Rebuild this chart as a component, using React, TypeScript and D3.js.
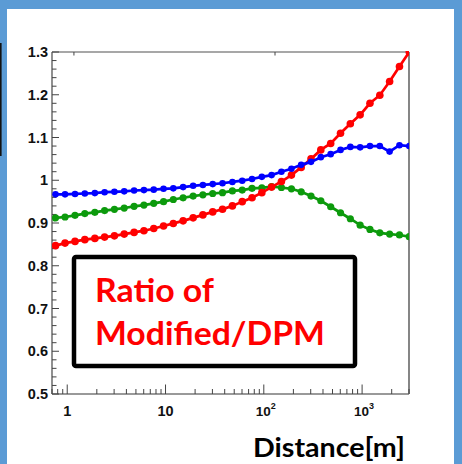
import React from "react";
import * as d3 from "d3";

// Distance bin centres [m], ten per decade
const distances = [
  0.76, 0.95, 1.2, 1.51, 1.91, 2.4, 3.02, 3.8, 4.79, 6.03, 7.59, 9.55, 12.0,
  15.1, 19.1, 24.0, 30.2, 38.0, 47.9, 60.3, 75.9, 95.5, 120, 151, 191, 240,
  302, 380, 479, 603, 759, 955, 1202, 1514, 1905, 2399, 3020,
];

const blueRatio = [
  0.967, 0.967, 0.968, 0.969, 0.97, 0.972, 0.973, 0.974, 0.976, 0.977, 0.978,
  0.98, 0.981, 0.984, 0.987, 0.989, 0.991, 0.993, 0.996, 0.999, 1.003, 1.008,
  1.012, 1.02, 1.027, 1.036, 1.043, 1.054, 1.061, 1.071, 1.078, 1.077, 1.08,
  1.08, 1.067, 1.082, 1.08,
];

const greenRatio = [
  0.912, 0.914, 0.918, 0.922, 0.925, 0.929, 0.932, 0.935, 0.939, 0.942, 0.946,
  0.95, 0.955, 0.959, 0.963, 0.966, 0.969, 0.971, 0.975, 0.977, 0.981, 0.982,
  0.985, 0.983, 0.98, 0.973, 0.963, 0.952, 0.938, 0.924, 0.91, 0.895, 0.885,
  0.877, 0.874, 0.872, 0.868,
];

const redRatio = [
  0.847, 0.853, 0.857, 0.861, 0.864, 0.867, 0.87, 0.874, 0.878, 0.882, 0.887,
  0.893, 0.899, 0.905, 0.912, 0.919, 0.926, 0.932, 0.94, 0.95, 0.959, 0.971,
  0.984, 0.997, 1.012, 1.03, 1.05, 1.071, 1.086, 1.11, 1.132, 1.153, 1.18,
  1.199, 1.231, 1.266, 1.3,
];

const yTickLabels = ["0.5", "0.6", "0.7", "0.8", "0.9", "1", "1.1", "1.2", "1.3"];
const xDecades = [1, 10, 100, 1000];
const topAxisTicks = [1.17, 130];

const W = 462;
const H = 464;
const frame = { left: 52, right: 409, top: 52, bottom: 394 };

const x = d3.scaleLog().domain([0.7, 3000]).range([frame.left, frame.right]);
const y = d3.scaleLinear().domain([0.5, 1.3]).range([frame.bottom, frame.top]);

const seriesList = [
  { name: "green", values: greenRatio, color: "#0c9a0c", r: 3.6 },
  { name: "red", values: redRatio, color: "#ff0000", r: 3.8 },
  { name: "blue", values: blueRatio, color: "#0000ff", r: 3.3 },
];

const labelFont = "'Liberation Sans', Arial, sans-serif";
const boxFont = "Lato, 'Open Sans', sans-serif";

export default function App() {
  const line = d3
    .line<number>()
    .x((_, i) => x(distances[i]))
    .y((v) => y(v));

  // minor ticks on the log axis: 2..9 in each decade inside the domain
  const xMinor: number[] = [];
  for (let dec = 0.1; dec <= 1000; dec *= 10) {
    for (let m = 2; m <= 9; m++) {
      const v = +(dec * m).toPrecision(3);
      if (v >= 0.7 && v <= 3000) xMinor.push(v);
    }
  }
  const yMinor = d3.range(0, 41).map((i) => +(0.5 + i * 0.02).toFixed(2));
  const yMajor = yTickLabels.map((t) => +t);

  return (
    <svg
      width={W}
      height={H}
      style={{ position: "absolute", left: 0, top: 0, display: "block" }}
    >
      <defs>
        <clipPath id="plotClip">
          <rect
            x={frame.left}
            y={frame.top - 1}
            width={frame.right - frame.left}
            height={frame.bottom - frame.top + 1}
          />
        </clipPath>
      </defs>

      {/* slide background */}
      <rect x={0} y={0} width={W} height={H} fill="#5b9bd5" />
      <rect x={7} y={9} width={447} height={H - 9} fill="#ffffff" />
      <rect x={0} y={43} width={1.6} height={113} fill="#111" />

      {/* frame */}
      <line x1={frame.left} x2={frame.right} y1={frame.top} y2={frame.top} stroke="#8a8a8a" strokeWidth={1.6} />
      <line x1={frame.right} x2={frame.right} y1={frame.top} y2={frame.bottom} stroke="#444" strokeWidth={1.3} />
      <line x1={frame.left} x2={frame.right} y1={frame.bottom} y2={frame.bottom} stroke="#777" strokeWidth={1.4} />
      <line x1={frame.left} x2={frame.left} y1={frame.top} y2={frame.bottom} stroke="#555" strokeWidth={1.3} />

      {/* y ticks */}
      {yMinor.map((v) => {
        const major = yMajor.some((m) => Math.abs(m - v) < 1e-6);
        return (
          <line
            key={"ym" + v}
            x1={frame.left}
            x2={frame.left + (major ? 7 : 4.5)}
            y1={y(v)}
            y2={y(v)}
            stroke="#444"
            strokeWidth={1}
          />
        );
      })}
      {yTickLabels.map((t) => (
        <text
          key={"yl" + t}
          x={48}
          y={y(+t) + 5}
          textAnchor="end"
          fontFamily={labelFont}
          fontWeight="bold"
          fontSize={14.5}
          fill="#111"
        >
          {t}
        </text>
      ))}

      {/* x ticks */}
      {xMinor.map((v) => (
        <line key={"xm" + v} x1={x(v)} x2={x(v)} y1={frame.bottom} y2={frame.bottom - 5} stroke="#444" strokeWidth={1} />
      ))}
      {xDecades.map((v) => (
        <line key={"xM" + v} x1={x(v)} x2={x(v)} y1={frame.bottom} y2={frame.bottom - 9.5} stroke="#444" strokeWidth={1} />
      ))}
      {topAxisTicks.map((v) => (
        <line key={"xt" + v} x1={x(v)} x2={x(v)} y1={frame.top} y2={frame.top + 3.5} stroke="#444" strokeWidth={1} />
      ))}
      {xDecades.map((v) => {
        const exp = Math.round(Math.log10(v));
        return (
          <text
            key={"xl" + v}
            x={x(v) + (exp >= 2 ? 2 : 0)}
            y={416}
            textAnchor="middle"
            fontFamily={labelFont}
            fontWeight="bold"
            fontSize={exp >= 2 ? 13.5 : 14.5}
            fill="#111"
          >
            {exp < 2 ? String(v) : "10"}
            {exp >= 2 && (
              <tspan dy={-7} fontSize={9}>
                {exp}
              </tspan>
            )}
          </text>
        );
      })}

      {/* curves */}
      <g clipPath="url(#plotClip)">
        {seriesList.map((s) => (
          <g key={s.name}>
            <path d={line(s.values) ?? ""} fill="none" stroke={s.color} strokeWidth={2.7} />
            {s.values.map((v, i) => (
              <circle key={i} cx={x(distances[i])} cy={y(v)} r={s.r} fill={s.color} />
            ))}
          </g>
        ))}
      </g>

      {/* annotation box */}
      <rect x={74} y={257} width={281} height={109} rx={2} fill="#fff" stroke="#000" strokeWidth={4.5} />
      <text
        x={95}
        y={301.5}
        fontFamily={boxFont}
        fontWeight="bold"
        fontSize={32}
        fill="#ff0000"
        textLength={119}
        lengthAdjust="spacingAndGlyphs"
      >
        Ratio of
      </text>
      <text
        x={95}
        y={345}
        fontFamily={boxFont}
        fontWeight="bold"
        fontSize={32}
        fill="#ff0000"
        textLength={230}
        lengthAdjust="spacingAndGlyphs"
      >
        Modified/DPM
      </text>

      <text
        x={253}
        y={457}
        fontFamily={boxFont}
        fontWeight="bold"
        fontSize={26}
        fill="#000"
        textLength={152}
        lengthAdjust="spacingAndGlyphs"
      >
        Distance[m]
      </text>
    </svg>
  );
}
